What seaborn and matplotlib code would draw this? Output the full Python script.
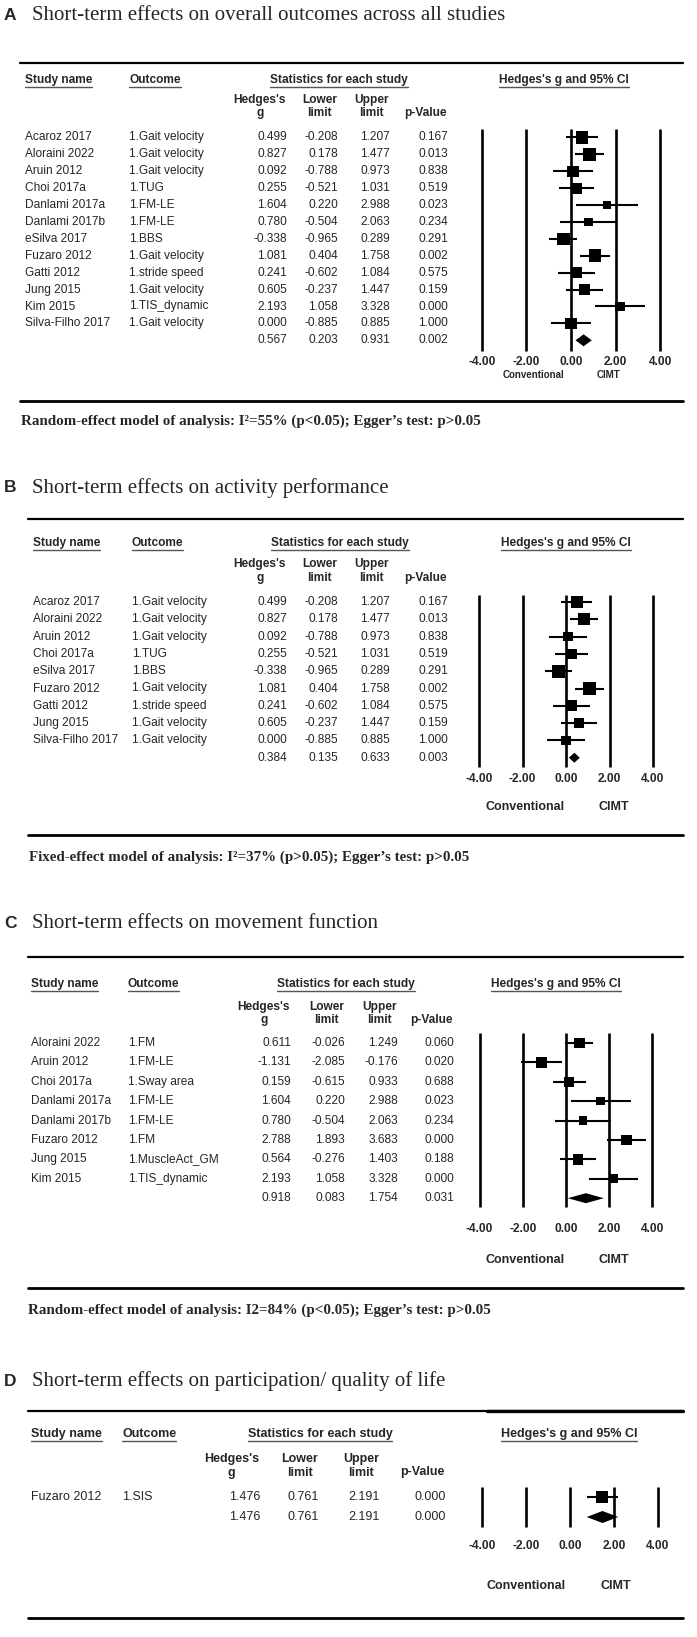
import matplotlib
matplotlib.use("Agg")
import matplotlib.pyplot as plt
import seaborn as sns
import numpy as np
from matplotlib.transforms import blended_transform_factory
from matplotlib.lines import Line2D

sns.set_style("white")
plt.rcParams['font.family'] = ['Liberation Sans', 'DejaVu Sans']

# %% dados - painel A (todos os desfechos)
estudos_a = ["Acaroz 2017", "Aloraini 2022", "Aruin 2012", "Choi 2017a", "Danlami 2017a", "Danlami 2017b",
             "eSilva 2017", "Fuzaro 2012", "Gatti 2012", "Jung 2015", "Kim 2015", "Silva-Filho 2017"]
desfechos_a = ["1.Gait velocity", "1.Gait velocity", "1.Gait velocity", "1.TUG", "1.FM-LE", "1.FM-LE",
               "1.BBS", "1.Gait velocity", "1.stride speed", "1.Gait velocity", "1.TIS_dynamic", "1.Gait velocity"]
g_a = [0.499, 0.827, 0.092, 0.255, 1.604, 0.780, -0.338, 1.081, 0.241, 0.605, 2.193, 0.000]
lo_a = [-0.208, 0.178, -0.788, -0.521, 0.220, -0.504, -0.965, 0.404, -0.602, -0.237, 1.058, -0.885]
hi_a = [1.207, 1.477, 0.973, 1.031, 2.988, 2.063, 0.289, 1.758, 1.084, 1.447, 3.328, 0.885]
p_a = [0.167, 0.013, 0.838, 0.519, 0.023, 0.234, 0.291, 0.002, 0.575, 0.159, 0.000, 1.000]
peso_a = [10, 10, 8, 8, 4.5, 4.5, 10, 10, 8, 8, 5.5, 8]
resumo_a = [0.567, 0.203, 0.931, 0.002]

# %% dados - painel B (atividade)
estudos_b = ["Acaroz 2017", "Aloraini 2022", "Aruin 2012", "Choi 2017a", "eSilva 2017", "Fuzaro 2012",
             "Gatti 2012", "Jung 2015", "Silva-Filho 2017"]
desfechos_b = ["1.Gait velocity", "1.Gait velocity", "1.Gait velocity", "1.TUG", "1.BBS", "1.Gait velocity",
               "1.stride speed", "1.Gait velocity", "1.Gait velocity"]
g_b = [0.499, 0.827, 0.092, 0.255, -0.338, 1.081, 0.241, 0.605, 0.000]
lo_b = [-0.208, 0.178, -0.788, -0.521, -0.965, 0.404, -0.602, -0.237, -0.885]
hi_b = [1.207, 1.477, 0.973, 1.031, 0.289, 1.758, 1.084, 1.447, 0.885]
p_b = [0.167, 0.013, 0.838, 0.519, 0.291, 0.002, 0.575, 0.159, 1.000]
peso_b = [13, 13, 8, 10, 14, 13, 10, 8, 8]
resumo_b = [0.384, 0.135, 0.633, 0.003]

# %% dados - painel C (funcao motora)
estudos_c = ["Aloraini 2022", "Aruin 2012", "Choi 2017a", "Danlami 2017a", "Danlami 2017b", "Fuzaro 2012",
             "Jung 2015", "Kim 2015"]
desfechos_c = ["1.FM", "1.FM-LE", "1.Sway area", "1.FM-LE", "1.FM-LE", "1.FM", "1.MuscleAct_GM", "1.TIS_dynamic"]
g_c = [0.611, -1.131, 0.159, 1.604, 0.780, 2.788, 0.564, 2.193]
lo_c = [-0.026, -2.085, -0.615, 0.220, -0.504, 1.893, -0.276, 1.058]
hi_c = [1.249, -0.176, 0.933, 2.988, 2.063, 3.683, 1.403, 3.328]
p_c = [0.060, 0.020, 0.688, 0.023, 0.234, 0.000, 0.188, 0.000]
peso_c = [13, 13, 11, 8, 8, 13, 12, 9]
resumo_c = [0.918, 0.083, 1.754, 0.031]

# %% dados - painel D (qualidade de vida)
estudos_d = ["Fuzaro 2012"]
desfechos_d = ["1.SIS"]
g_d = [1.476]
lo_d = [0.761]
hi_d = [2.191]
p_d = [0.000]
peso_d = [12]
resumo_d = [1.476, 0.761, 2.191, 0.000]

eixo_x = [-4, -2, 0, 2, 4]

# %% figura
W, H = 697, 1637
fig = plt.figure(figsize=(W / 100, H / 100), dpi=100)
fig.patch.set_facecolor("white")
rend = fig.canvas.get_renderer()


def fx(px):
    return px / W


def fy(py):
    return 1 - py / H


def linha(x0, x1, y, lw=1.6):
    fig.add_artist(Line2D([fx(x0), fx(x1)], [fy(y), fy(y)], color="black", lw=lw))


def cabecalho(x, y, s, ha="left", fs=8):
    t = fig.text(fx(x), fy(y), s, ha=ha, va="center", fontsize=fs, fontweight="bold")
    bb = t.get_window_extent(rend)
    yy = (bb.y0 - 1.0) / H
    fig.add_artist(Line2D([bb.x0 / W, bb.x1 / W], [yy, yy], color="#555555", lw=1.0))
    return t


def painel(letra, titulo, estudos, desfechos, g, lo, hi, p, peso, resumo, rodape, L):
    fig.text(fx(4), fy(L["titulo"]), letra, fontsize=12.5, fontweight="bold", va="center")
    fig.text(fx(32), fy(L["titulo"]), titulo, fontsize=15, family=["Liberation Serif"], va="center")
    linha(L["x0"], 683, L["topo"])
    linha(L["x0"], 683, L["base"], lw=2.0)

    fs = L.get("fs", 8.6)
    c = L["cols"]
    vx = [c["g"], c["lo"], c["hi"], c["p"]]
    cabecalho(L["xest"], L["cab"], "Study name", fs=fs)
    cabecalho(c["desf"], L["cab"], "Outcome", fs=fs)
    cabecalho(L["stats"], L["cab"], "Statistics for each study", ha="center", fs=fs)
    cabecalho(L["forest"], L["cab"], "Hedges's g and 95% CI", ha="center", fs=fs)
    for s, x in zip(["Hedges's\ng", "Lower\nlimit", "Upper\nlimit"], vx[:3]):
        fig.text(fx(x - 1), fy(L["sub"]), s, ha="right", va="center", multialignment="center",
                 fontsize=fs, fontweight="bold", linespacing=1.2)
    fig.text(fx(vx[3] - 1), fy(L["sub"] + 6.5), "p-Value", ha="right", va="center", fontsize=fs,
             fontweight="bold")

    # eixo do forest plot
    topo_px, base_px = L["vtopo"] - 4, L["vbase"] + 4
    r0, st = L["linha0"], L["passo"]
    ax = fig.add_axes([0, fy(base_px), 1, (base_px - topo_px) / H])
    tr = blended_transform_factory(fig.transFigure, ax.transData)

    n = len(estudos)
    lin = np.arange(n)
    for i in range(n):
        ax.text(fx(L["xest"]), i, estudos[i], transform=tr, va="center", fontsize=fs)
        ax.text(fx(c["desf"]), i, desfechos[i], transform=tr, va="center", fontsize=fs)
        for v, x in zip([g[i], lo[i], hi[i], p[i]], vx):
            ax.text(fx(x), i, f"{v:.3f}", transform=tr, va="center", ha="right", fontsize=fs)
    for v, x in zip(resumo, vx):
        ax.text(fx(x), n, f"{v:.3f}", transform=tr, va="center", ha="right", fontsize=fs)

    yv0, yv1 = (L["vtopo"] - r0) / st, (L["vbase"] - r0) / st
    ax.vlines(eixo_x, yv0, yv1, color="black", lw=1.9)
    ax.hlines(lin, lo, hi, color="black", lw=1.5, zorder=3)
    lado = 4.0 * np.sqrt(np.array(peso, dtype=float)) * L.get("esc", 1.0)
    sns.scatterplot(x=g, y=lin, marker="s", s=(lado * 0.72) ** 2, color="black",
                    linewidth=0, ax=ax, legend=False, zorder=4)
    meia = L.get("diam", 6) / st
    ax.fill([resumo[1], resumo[0], resumo[2], resumo[0]], [n, n - meia, n, n + meia],
            color="black", lw=0, zorder=4)
    ax.set_xlim(-L["zero"] / L["unid"], (W - L["zero"]) / L["unid"])
    ax.set_ylim((base_px - r0) / st, (topo_px - r0) / st)
    ax.axis("off")
    ax.patch.set_alpha(0)

    yt = (L["ticks"] - r0) / st
    for v in eixo_x:
        ax.text(v, yt, f"{v:.2f}", ha="center", va="center", fontsize=8.6, fontweight="bold")
    yc = (L["conv"] - r0) / st
    ax.text(L["xconv"][0], yc, "Conventional", ha="center", va="center", fontsize=L["fsconv"],
            fontweight="bold")
    ax.text(L["xconv"][1], yc, "CIMT", ha="center", va="center", fontsize=L["fsconv"], fontweight="bold")

    if rodape:
        fig.text(fx(L["rx"]), fy(L["rod"]), rodape, va="center", fontsize=10.8, fontweight="bold",
                 family=["Liberation Serif"])
    return ax


painel("A", "Short-term effects on overall outcomes across all studies",
       estudos_a, desfechos_a, g_a, lo_a, hi_a, p_a, peso_a, resumo_a,
       "Random-effect model of analysis: I\u00b2=55% (p<0.05); Egger\u2019s test: p>0.05",
       dict(titulo=16, x0=20, topo=63, base=401, cab=80, sub=106.5, linha0=137.5, passo=16.9,
            vtopo=129, vbase=351, ticks=362, conv=375, fsconv=7, xconv=(-1.7, 1.7), rod=421, rx=21,
            zero=571, unid=22.3, xest=25, stats=339, forest=564,
            cols=dict(desf=129, g=287, lo=338, hi=390, p=448)))

painel("B", "Short-term effects on activity performance",
       estudos_b, desfechos_b, g_b, lo_b, hi_b, p_b, peso_b, resumo_b,
       "Fixed-effect model of analysis: I\u00b2=37% (p>0.05); Egger\u2019s test: p>0.05",
       dict(titulo=488, x0=28, topo=519, base=835, cab=543, sub=571, linha0=602, passo=17.3,
            vtopo=595, vbase=767, ticks=779, conv=807, fsconv=9, xconv=(-1.9, 2.2), rod=857, rx=29,
            zero=566, unid=21.75, xest=33, stats=340, forest=566, esc=0.85, diam=5,
            cols=dict(desf=132, g=287, lo=338, hi=390, p=448)))

painel("C", "Short-term effects on movement function",
       estudos_c, desfechos_c, g_c, lo_c, hi_c, p_c, peso_c, resumo_c,
       "Random-effect model of analysis: I2=84% (p<0.05); Egger\u2019s test: p>0.05",
       dict(titulo=923, x0=28, topo=957, base=1288, cab=984, sub=1013.5, linha0=1043, passo=19.4,
            vtopo=1033, vbase=1207, ticks=1229, conv=1260, fsconv=9, xconv=(-1.9, 2.2), rod=1310, rx=28,
            zero=566, unid=21.6, xest=31, stats=346, forest=556, esc=0.75, diam=5,
            cols=dict(desf=128, g=291, lo=345, hi=398, p=454)))

painel("D", "Short-term effects on participation/ quality of life",
       estudos_d, desfechos_d, g_d, lo_d, hi_d, p_d, peso_d, resumo_d, None,
       dict(titulo=1381, x0=28, topo=1411, base=1618, cab=1434, sub=1466, linha0=1497, passo=20,
            vtopo=1487, vbase=1527, ticks=1546, conv=1586, fsconv=9, xconv=(-2.0, 2.1), fs=9,
            zero=570, unid=22.0, xest=31, stats=320, forest=569, esc=0.85, diam=6,
            cols=dict(desf=122, g=260, lo=319, hi=380, p=446)))
# trecho mais grosso da linha superior do painel D
linha(487, 683, 1411, lw=2.4)

fig.savefig("out.png", dpi=100, facecolor="white")
